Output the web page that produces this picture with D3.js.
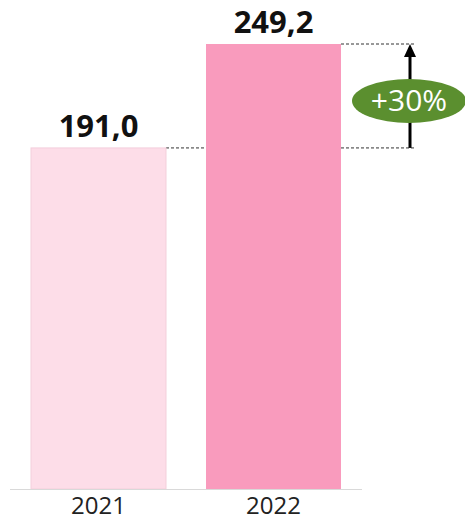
<!DOCTYPE html>
<html>
<head>
<meta charset="utf-8">
<script src="https://cdn.jsdelivr.net/npm/d3@7"></script>
<style>
  body { margin: 0; background: #fff; }
  text { font-family: "Open Sans", sans-serif; }
</style>
</head>
<body>
<div id="vis"></div>
<script>
// data
const years = ['2021', '2022'];
const values = [191.0, 249.2];
const valueLabels = ['191,0', '249,2'];
const colors = ['#fddde8', '#f99bbd'];
const growthLabel = '+30%';

// svg
const width = 465;
const height = 522;

const svg = d3.select('#vis')
    .append('svg')
    .attr('width', width)
    .attr('height', height);

// scales
const xScale = d3.scaleBand()
    .domain(years)
    .range([31, 341])
    .paddingInner(40 / 175)
    .paddingOuter(0);

const yScale = d3.scaleLinear()
    .domain([0, 249.2])
    .range([489, 44]);

// dashed guide lines (behind the bars)
const xRight = 416;
svg.selectAll('.guide')
    .data(values)
    .join('line')
    .attr('class', 'guide')
    .attr('x1', (d, i) => xScale(years[i]) + xScale.bandwidth())
    .attr('x2', xRight)
    .attr('y1', d => yScale(d))
    .attr('y2', d => yScale(d))
    .attr('stroke', '#333')
    .attr('stroke-width', 1)
    .attr('stroke-dasharray', '3,2');

// bars
svg.selectAll('.bar')
    .data(values)
    .join('rect')
    .attr('class', 'bar')
    .attr('x', (d, i) => xScale(years[i]))
    .attr('y', d => yScale(d))
    .attr('width', xScale.bandwidth())
    .attr('height', d => yScale(0) - yScale(d))
    .attr('fill', (d, i) => colors[i])
    .attr('stroke', (d, i) => i === 0 ? '#f3cfdb' : 'none')
    .attr('stroke-width', 1);

// baseline
svg.append('line')
    .attr('x1', 10)
    .attr('x2', 362)
    .attr('y1', yScale(0) + 0.5)
    .attr('y2', yScale(0) + 0.5)
    .attr('stroke', '#d9d9d9')
    .attr('stroke-width', 1);

// x axis labels
const xAxis = d3.axisBottom(xScale).tickSize(0).tickPadding(8);
const gx = svg.append('g')
    .attr('transform', `translate(0,${yScale(0)})`)
    .call(xAxis);
gx.select('.domain').remove();
gx.selectAll('text')
    .attr('font-size', 24)
    .attr('font-family', '"Open Sans", sans-serif')
    .attr('fill', '#222');

// value labels
svg.selectAll('.value')
    .data(values)
    .join('text')
    .attr('class', 'value')
    .attr('x', (d, i) => xScale(years[i]) + xScale.bandwidth() / 2)
    .attr('y', d => yScale(d) - 11)
    .attr('text-anchor', 'middle')
    .attr('font-size', 31)
    .attr('font-weight', 'bold')
    .attr('fill', '#111')
    .text((d, i) => valueLabels[i]);

// growth arrow
const arrowX = 410;
svg.append('line')
    .attr('x1', arrowX)
    .attr('x2', arrowX)
    .attr('y1', yScale(values[0]))
    .attr('y2', yScale(values[1]) + 12)
    .attr('stroke', '#000')
    .attr('stroke-width', 3);

svg.append('path')
    .attr('d', `M${arrowX - 6},${yScale(values[1]) + 13} L${arrowX},${yScale(values[1])} L${arrowX + 6},${yScale(values[1]) + 13} Z`)
    .attr('fill', '#000');

// growth badge
const badgeY = (yScale(values[0]) + yScale(values[1])) / 2 + 5;
svg.append('ellipse')
    .attr('cx', 409)
    .attr('cy', badgeY)
    .attr('rx', 57)
    .attr('ry', 22)
    .attr('fill', '#5b8f2f');

svg.append('text')
    .attr('x', 409)
    .attr('y', badgeY + 10)
    .attr('text-anchor', 'middle')
    .attr('font-size', 30)
    .attr('fill', '#fff')
    .text(growthLabel);
</script>
</body>
</html>
